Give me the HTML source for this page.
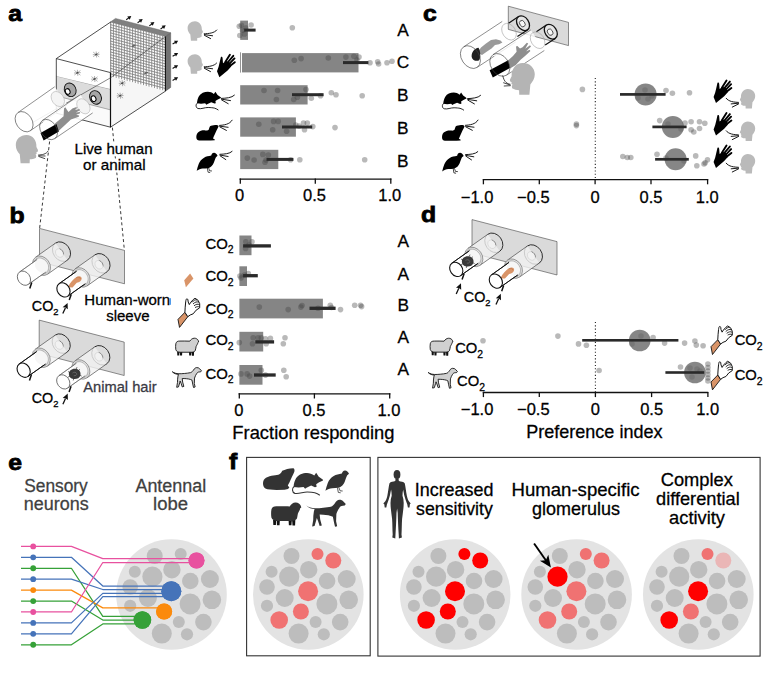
<!DOCTYPE html>
<html><head><meta charset="utf-8"><title>Figure</title>
<style>
html,body{margin:0;padding:0;background:#fff;}
svg{display:block;}
text{font-family:'Liberation Sans', Arial, sans-serif;}
</style></head><body>
<svg width="777" height="673" viewBox="0 0 777 673" font-family="'Liberation Sans', Arial, sans-serif">
<defs>
<symbol id="head" viewBox="0 0 16 20" overflow="visible">
<path d="M9.8 20 L9.9 17.2 C11.4 17.2 13 16.8 14.3 16 L14.5 14.6 L14 13.8 L14.8 13.2 L14.5 12.4 L15.6 11.6 L15.7 10.6 L14.6 8.4 C14.8 3.8 12 0 7.6 0 C3.2 0 0 3 0 7.2 C0 10 1.4 12 2.8 13.6 L3.4 20 Z"/>
</symbol>
<symbol id="breath" viewBox="0 0 14 9" overflow="visible">
<g fill="none" stroke-linecap="round">
<path d="M0 4 C4 3.6 9.5 3.2 12.4 0"/>
<path d="M0 4.3 L8.3 5"/>
<path d="M0 4.6 L6.3 7.6"/>
</g></symbol>
<symbol id="hand" viewBox="0 0 19 24" overflow="visible">
<path d="M0 17.4 L2.4 23.4 L10.6 16.6 L14.2 12.6 L13.2 9 L9 7.2 L6 9.4 L5.6 4.4 C5.3 2.6 3.9 2.5 3.6 4.4 L2.6 8.8 L1.6 13 Z"/>
<g stroke-linecap="round" fill="none" stroke-width="1.9" stroke="currentColor">
<path d="M8.3 8.2 L12.9 1"/>
<path d="M10.2 9.2 L16.3 2"/>
<path d="M11.8 10.6 L17.5 4.6"/>
<path d="M12.9 12.2 L17.8 8.4"/>
</g></symbol>
<symbol id="rat" viewBox="0 0 26 19.5" overflow="visible">
<path d="M26 6.3 C25 5.4 23.6 4.4 22.4 3.6 L20.2 0.3 L18.6 2.6 C16.8 1.2 14.6 0.4 12.4 0.4 C8.6 0.4 5 2 3.2 4.8 C2 6.8 1.2 9.4 1 12.3 L5.3 12.8 L9.5 12.3 L10.8 13.8 L12 13 L15.9 11.2 L19.2 12.6 L20.6 12.2 L20.2 10 C21.8 8.8 23.4 7.8 26 6.8 Z"/>
<path d="M1.6 12 C-0.6 13.2 -0.4 17 2.1 17.8 C5.5 18.6 9 16.6 12.7 16.7 C15.5 16.8 17.5 17 19 17.3 C20.8 17.8 22.2 18.6 23.3 19.4" fill="none" stroke-width="0.9" stroke="currentColor"/>
</symbol>
<symbol id="gpig" viewBox="0 0 31.5 22.2" overflow="visible">
<path d="M19.2 2.6 C22 1.2 26 0.2 30.2 0 C31.2 0 31.8 1.6 31.4 3.2 C30.6 5.6 29.2 8 28.2 10.2 C27 13 25.8 15.4 24.8 17.2 L26.4 19.4 L25 20.8 L21.6 21.6 L13.6 21.8 C9 21.8 4.6 21.4 2.4 20.4 C0.6 19.2 0 17 0 14.8 C0.2 12.4 1.2 10.6 3 9.6 C5.2 8.2 8 7.6 10.4 7.2 C13 6.8 15 6.6 16.4 6 C17.8 5.2 18.6 4 19.2 2.6 Z"/>
</symbol>
<symbol id="gpig2" viewBox="0 0 22.6 15.8" overflow="visible">
<path d="M22.4 1.2 C21.8 0.2 20.4 0 19 0.1 C17 0.2 15 0.6 13.8 1.4 C13.2 2.2 13 3.4 12.6 4.6 C12 5.6 10.8 5.8 9 5.6 C6.4 5.4 3.6 6 1.8 7.6 C0.2 9 0 11.4 0.2 13.2 C0.4 14.8 1.4 15.6 3 15.6 L13.2 15.6 L14.6 15.8 L18.6 15.4 L18.4 14.4 L16.8 13.6 C17.8 11.4 19 8.6 20.2 6 C21 4.2 22.2 2.6 22.4 1.2 Z"/>
</symbol>
<symbol id="quail" viewBox="0 0 24 23.5" overflow="visible">
<path d="M23.8 3.8 C23 2 21.6 0.4 19.8 0.4 C18 0.4 17 1.8 16.6 3.6 C13.6 4.2 10.8 4.6 8.4 6 C5.6 7.6 3.6 10 2.4 13 C1.4 15.6 0.6 18.4 0 21 C2.2 19.6 4.4 18.6 6.8 18.4 C9 18.4 11 18.4 12.9 18 C16 17.2 18.2 14.8 19.4 12 C20.4 9.6 21 7.2 22 5.4 Z"/>
<g fill="none" stroke-width="0.8" stroke="currentColor"><path d="M12.2 17.8 L13 22.6 L15.4 23"/><path d="M13.6 17.6 L14.8 21 L17.4 21.2"/></g>
</symbol>
<symbol id="sheep" viewBox="0 0 23.4 17.8" overflow="visible">
<path d="M1.6 13.4 L1.8 17.4 L3.8 17.4 L3.9 14.2 L4.4 14.2 L4.6 17.6 L6.6 17.6 L6.8 14 L13.6 14 L13.8 17.6 L15.8 17.6 L16 14.4 L16.4 14.4 L16.6 17.8 L18.6 17.8 L18.8 13.4 Z" fill="#111" stroke="none"/>
<path d="M0.3 5.6 C0.6 3.6 2.2 2.8 4.5 2.9 C7.5 3.1 11 2.6 14.4 3 C15.4 1.4 17 0.1 18.9 0 C20.8 -0.1 22.4 1 23 2.4 L23.4 3.8 L22.4 4.6 C22.6 5.6 21.6 6.6 20.8 8.4 C20.4 10 20.4 11.6 19.8 12.8 C19 13.8 17.6 14.2 16 14.2 L5 14.2 C2.6 14.2 0.8 13.4 0.3 11.6 C0 9.6 0 7.4 0.3 5.6 Z"/>
</symbol>
<symbol id="dog" viewBox="0 0 29.4 20.5" overflow="visible">
<path d="M0 4.2 C2 5.6 4 6.1 6.6 6.2 C9 6.3 15 5.8 18.3 5.1 C19.6 4.8 20.6 3.6 21.4 2.4 C22.2 1 23.4 0 24.6 0 C26 0 27 0.4 27.6 1.2 L29.4 3.2 L28.6 4.3 L27.2 4.4 C26 4.4 25.2 5 24.6 6 C23.8 7.2 23 8.6 22.4 10.6 L22.2 16 L23 19.6 L21.4 20.1 L20.6 16.6 L19.8 12.6 C18 11.6 15 11.2 12.7 11.1 L10 11 L10.4 14.6 L11.6 19 L10 19.5 L8.8 15.8 L7.9 13.6 L7.4 15.4 L6.2 19.5 L4.4 19.9 L5.2 15 C5.2 12.8 5.3 10.6 5.7 8.6 L6.2 6.8 C4.2 6.8 1.6 6 0 4.2 Z"/>
</symbol>
<symbol id="hsleeve" viewBox="0 0 22 29" overflow="visible">
<path d="M0 21 L6.9 13.9 L9.8 18.3 L1.5 29 Z" fill="#d99468" stroke="#111" stroke-width="0.9" stroke-linejoin="round"/>
<path d="M6.9 13.9 L7.2 8.8 L7.7 3.5 C7.9 1.6 8.2 0.5 8.8 0.4 C9.4 0.3 9.8 0.8 9.9 1.4 L10.2 3.6 L11.3 6.2 L12.8 3.8 L15.2 1.2 L17 -0.1 L19.9 1.7 L21.7 5.3 L21.7 9.4 L18.1 11.8 L15.2 15.4 L12.2 16.6 L9.8 18.3 Z" fill="#fff" stroke="#111" stroke-width="1.0" stroke-linejoin="round"/>
<g stroke="#111" stroke-width="0.9" fill="none"><path d="M14 4 C15.5 2 17.5 1 19 1.6"/><path d="M15 5.6 C17 3.6 19 3 20.6 3.8"/><path d="M16 7.4 C18 5.8 19.8 5.4 21.4 6.2"/><path d="M17 9.2 C18.6 8.2 20 8 21.4 8.6"/></g>
</symbol>
<symbol id="human" viewBox="0 0 27.4 68.6" overflow="visible">
<ellipse cx="13.7" cy="4.6" rx="3.4" ry="4.5"/>
<path d="M12.2 8.6 L15.2 8.6 L15.6 11 C17.6 11.6 20.4 11.8 21.4 13.2 C22.2 16 22.6 21 23.6 26 C24.2 28.6 24.8 30.2 25.8 31.6 L27.4 33.4 L26.6 34.2 L26.2 37.4 L24.6 37.6 L24 34.4 C22.8 31.6 21.8 28.6 21 25.6 L19.8 19.6 C19.4 22 19.2 24 19.2 25.8 C20 28 20.4 30.4 20.4 33 C20.4 38 19.4 44 18.8 49 C18.4 54 18.6 60 18.2 64.4 L18.6 67.6 L15.6 68.4 L15.4 64.6 C15 58 14.6 50 14.4 43 L13.8 38.4 L13.2 43 C13 50 12.6 58 12.2 64.6 L12 68.4 L9 67.6 L9.4 64.4 C9 60 9.2 54 8.8 49 C8.2 44 7.2 38 7.2 33 C7.2 30.4 7.6 28 8.4 25.8 C8.4 24 8.2 22 7.8 19.6 L6.6 25.6 C5.8 28.6 4.8 31.6 3.6 34.4 L3 37.6 L1.4 37.4 L1 34.2 L0 33.4 L1.8 31.6 C2.8 30.2 3.4 28.6 4 26 C5 21 5.4 16 6.2 13.2 C7.2 11.8 10 11.6 12 11 Z"/>
</symbol>
<symbol id="mosq" viewBox="-4 -4 8 8" overflow="visible">
<g stroke="#555" stroke-width="0.45" fill="none"><path d="M-3 -2.4 L3 2.4 M-3 2.2 L3 -2.2 M-3.4 0.2 L3.4 -0.2 M0 -3 L0.4 3"/></g>
<ellipse cx="0" cy="0" rx="1.3" ry="0.6" fill="#444" transform="rotate(-30)"/>
</symbol>
</defs>
<rect width="777" height="673" fill="#fff"/>
<rect x="240.2" y="20.6" width="7.800000000000011" height="19.3" fill="#858585"/>
<rect x="242" y="53.1" width="116.5" height="19.3" fill="#858585"/>
<rect x="240.2" y="85.2" width="67.40000000000003" height="19.3" fill="#858585"/>
<rect x="240.2" y="117.4" width="55.69999999999999" height="19.3" fill="#858585"/>
<rect x="240.2" y="149.8" width="38.10000000000002" height="19.3" fill="#858585"/>
<rect x="240" y="52.3" width="0.9" height="20.3" fill="#8a8a8a"/>
<circle cx="239.3" cy="26.2" r="2.8" fill="rgba(66,66,66,0.37)"/>
<circle cx="241.4" cy="25.2" r="2.8" fill="rgba(66,66,66,0.37)"/>
<circle cx="251.1" cy="25.0" r="2.8" fill="rgba(66,66,66,0.37)"/>
<circle cx="239.8" cy="35.5" r="2.8" fill="rgba(66,66,66,0.37)"/>
<circle cx="244.5" cy="33.9" r="2.8" fill="rgba(66,66,66,0.37)"/>
<circle cx="242.5" cy="30.5" r="2.8" fill="rgba(66,66,66,0.37)"/>
<circle cx="246" cy="28" r="2.8" fill="rgba(66,66,66,0.37)"/>
<circle cx="292.3" cy="27.8" r="2.8" fill="rgba(66,66,66,0.37)"/>
<circle cx="294.3" cy="60.2" r="2.8" fill="rgba(66,66,66,0.37)"/>
<circle cx="301.1" cy="58.6" r="2.8" fill="rgba(66,66,66,0.37)"/>
<circle cx="328.3" cy="58" r="2.8" fill="rgba(66,66,66,0.37)"/>
<circle cx="345.9" cy="57.1" r="2.8" fill="rgba(66,66,66,0.37)"/>
<circle cx="353.9" cy="56.2" r="2.8" fill="rgba(66,66,66,0.37)"/>
<circle cx="359" cy="57.1" r="2.8" fill="rgba(66,66,66,0.37)"/>
<circle cx="370" cy="62.7" r="2.8" fill="rgba(66,66,66,0.37)"/>
<circle cx="377.7" cy="61.8" r="2.8" fill="rgba(66,66,66,0.37)"/>
<circle cx="378.6" cy="64" r="2.8" fill="rgba(66,66,66,0.37)"/>
<circle cx="387" cy="62.7" r="2.8" fill="rgba(66,66,66,0.37)"/>
<circle cx="392" cy="61.2" r="2.8" fill="rgba(66,66,66,0.37)"/>
<circle cx="357" cy="60" r="2.8" fill="rgba(66,66,66,0.37)"/>
<circle cx="264" cy="90.5" r="2.8" fill="rgba(66,66,66,0.37)"/>
<circle cx="277.6" cy="90.5" r="2.8" fill="rgba(66,66,66,0.37)"/>
<circle cx="276.4" cy="99.5" r="2.8" fill="rgba(66,66,66,0.37)"/>
<circle cx="293.7" cy="99.5" r="2.8" fill="rgba(66,66,66,0.37)"/>
<circle cx="297.4" cy="97.3" r="2.8" fill="rgba(66,66,66,0.37)"/>
<circle cx="306" cy="89.6" r="2.8" fill="rgba(66,66,66,0.37)"/>
<circle cx="311.3" cy="98.2" r="2.8" fill="rgba(66,66,66,0.37)"/>
<circle cx="320.5" cy="95.8" r="2.8" fill="rgba(66,66,66,0.37)"/>
<circle cx="331.3" cy="92.7" r="2.8" fill="rgba(66,66,66,0.37)"/>
<circle cx="336" cy="94.8" r="2.8" fill="rgba(66,66,66,0.37)"/>
<circle cx="362.2" cy="95.8" r="2.8" fill="rgba(66,66,66,0.37)"/>
<circle cx="258.8" cy="124.2" r="2.8" fill="rgba(66,66,66,0.37)"/>
<circle cx="273.6" cy="121.4" r="2.8" fill="rgba(66,66,66,0.37)"/>
<circle cx="278.2" cy="121.4" r="2.8" fill="rgba(66,66,66,0.37)"/>
<circle cx="272.7" cy="129.7" r="2.8" fill="rgba(66,66,66,0.37)"/>
<circle cx="286.6" cy="131.3" r="2.8" fill="rgba(66,66,66,0.37)"/>
<circle cx="295.8" cy="125.1" r="2.8" fill="rgba(66,66,66,0.37)"/>
<circle cx="303.5" cy="123" r="2.8" fill="rgba(66,66,66,0.37)"/>
<circle cx="307.3" cy="123" r="2.8" fill="rgba(66,66,66,0.37)"/>
<circle cx="304.5" cy="129.7" r="2.8" fill="rgba(66,66,66,0.37)"/>
<circle cx="312.8" cy="126.6" r="2.8" fill="rgba(66,66,66,0.37)"/>
<circle cx="335" cy="127.6" r="2.8" fill="rgba(66,66,66,0.37)"/>
<circle cx="299" cy="126" r="2.8" fill="rgba(66,66,66,0.37)"/>
<circle cx="247.3" cy="158.1" r="2.8" fill="rgba(66,66,66,0.37)"/>
<circle cx="254.1" cy="160" r="2.8" fill="rgba(66,66,66,0.37)"/>
<circle cx="262.8" cy="154.4" r="2.8" fill="rgba(66,66,66,0.37)"/>
<circle cx="268.3" cy="155" r="2.8" fill="rgba(66,66,66,0.37)"/>
<circle cx="265" cy="162.2" r="2.8" fill="rgba(66,66,66,0.37)"/>
<circle cx="290.6" cy="159.7" r="2.8" fill="rgba(66,66,66,0.37)"/>
<circle cx="299.8" cy="159.7" r="2.8" fill="rgba(66,66,66,0.37)"/>
<circle cx="364.7" cy="159.7" r="2.8" fill="rgba(66,66,66,0.37)"/>
<circle cx="266" cy="160" r="2.8" fill="rgba(66,66,66,0.37)"/>
<rect x="244.2" y="28.6" width="11.400000000000006" height="3.0" fill="#2a2a2a"/>
<rect x="343" y="61.1" width="25.399999999999977" height="3.0" fill="#2a2a2a"/>
<rect x="292" y="93.2" width="31.600000000000023" height="3.0" fill="#2a2a2a"/>
<rect x="282" y="125.5" width="30.19999999999999" height="3.0" fill="#2a2a2a"/>
<rect x="266.5" y="157.9" width="26.899999999999977" height="3.0" fill="#2a2a2a"/>
<text x="397.15" y="35.7" font-size="17.3" text-anchor="start" fill="#000" stroke="#000" stroke-width="0.28" font-weight="normal" >A</text>
<text x="396.64" y="68.4" font-size="17.3" text-anchor="start" fill="#000" stroke="#000" stroke-width="0.28" font-weight="normal" >C</text>
<text x="396.94" y="100.7" font-size="17.3" text-anchor="start" fill="#000" stroke="#000" stroke-width="0.28" font-weight="normal" >B</text>
<text x="396.94" y="133.9" font-size="17.3" text-anchor="start" fill="#000" stroke="#000" stroke-width="0.28" font-weight="normal" >B</text>
<text x="396.94" y="166.7" font-size="17.3" text-anchor="start" fill="#000" stroke="#000" stroke-width="0.28" font-weight="normal" >B</text>
<path d="M239.6 179.2 H391.4" stroke="#111" stroke-width="1.3" fill="none"/>
<path d="M240.3 178.6 V183.79999999999998" stroke="#111" stroke-width="1.3"/>
<path d="M315.3 178.6 V183.79999999999998" stroke="#111" stroke-width="1.3"/>
<path d="M390.8 178.6 V183.79999999999998" stroke="#111" stroke-width="1.3"/>
<text x="234.92" y="200.9" font-size="16.5" text-anchor="start" fill="#000" stroke="#000" stroke-width="0.28" font-weight="normal" >0</text>
<text x="303.03" y="200.9" font-size="16.5" text-anchor="start" fill="#000" stroke="#000" stroke-width="0.28" font-weight="normal" >0.5</text>
<text x="378.24" y="200.9" font-size="16.5" text-anchor="start" fill="#000" stroke="#000" stroke-width="0.28" font-weight="normal" >1.0</text>
<rect x="239.4" y="235.5" width="12.099999999999994" height="19.7" fill="#858585"/>
<rect x="239.4" y="266.3" width="7.599999999999994" height="19.7" fill="#858585"/>
<rect x="239.4" y="298.7" width="83.49999999999997" height="19.7" fill="#858585"/>
<rect x="239.4" y="331.8" width="23.799999999999983" height="19.7" fill="#858585"/>
<rect x="239.4" y="365.0" width="23.099999999999994" height="19.7" fill="#858585"/>
<circle cx="245.8" cy="241.7" r="2.8" fill="rgba(66,66,66,0.37)"/>
<circle cx="252" cy="241.7" r="2.8" fill="rgba(66,66,66,0.37)"/>
<circle cx="245.6" cy="248.4" r="2.8" fill="rgba(66,66,66,0.37)"/>
<circle cx="249" cy="245" r="2.8" fill="rgba(66,66,66,0.37)"/>
<circle cx="239.9" cy="276" r="2.8" fill="rgba(66,66,66,0.37)"/>
<circle cx="241" cy="278" r="2.8" fill="rgba(66,66,66,0.37)"/>
<circle cx="248.3" cy="273.5" r="2.8" fill="rgba(66,66,66,0.37)"/>
<circle cx="244.5" cy="275" r="2.8" fill="rgba(66,66,66,0.37)"/>
<circle cx="259.3" cy="307.1" r="2.8" fill="rgba(66,66,66,0.37)"/>
<circle cx="288.2" cy="309.6" r="2.8" fill="rgba(66,66,66,0.37)"/>
<circle cx="300.9" cy="307.1" r="2.8" fill="rgba(66,66,66,0.37)"/>
<circle cx="302" cy="305.5" r="2.8" fill="rgba(66,66,66,0.37)"/>
<circle cx="318" cy="308.3" r="2.8" fill="rgba(66,66,66,0.37)"/>
<circle cx="330.3" cy="305.2" r="2.8" fill="rgba(66,66,66,0.37)"/>
<circle cx="331.5" cy="307.5" r="2.8" fill="rgba(66,66,66,0.37)"/>
<circle cx="340.5" cy="309.6" r="2.8" fill="rgba(66,66,66,0.37)"/>
<circle cx="354.7" cy="305.2" r="2.8" fill="rgba(66,66,66,0.37)"/>
<circle cx="361.6" cy="306.6" r="2.8" fill="rgba(66,66,66,0.37)"/>
<circle cx="360.6" cy="305.2" r="2.8" fill="rgba(66,66,66,0.37)"/>
<circle cx="239.3" cy="342.6" r="2.8" fill="rgba(66,66,66,0.37)"/>
<circle cx="253.2" cy="337.7" r="2.8" fill="rgba(66,66,66,0.37)"/>
<circle cx="252.5" cy="343.8" r="2.8" fill="rgba(66,66,66,0.37)"/>
<circle cx="258.1" cy="337.7" r="2.8" fill="rgba(66,66,66,0.37)"/>
<circle cx="261.3" cy="337.7" r="2.8" fill="rgba(66,66,66,0.37)"/>
<circle cx="265.5" cy="338.9" r="2.8" fill="rgba(66,66,66,0.37)"/>
<circle cx="266.2" cy="343.8" r="2.8" fill="rgba(66,66,66,0.37)"/>
<circle cx="270.4" cy="338.4" r="2.8" fill="rgba(66,66,66,0.37)"/>
<circle cx="285" cy="337.7" r="2.8" fill="rgba(66,66,66,0.37)"/>
<circle cx="283.3" cy="343.8" r="2.8" fill="rgba(66,66,66,0.37)"/>
<circle cx="241" cy="373.9" r="2.8" fill="rgba(66,66,66,0.37)"/>
<circle cx="247.1" cy="373.9" r="2.8" fill="rgba(66,66,66,0.37)"/>
<circle cx="249.6" cy="376.1" r="2.8" fill="rgba(66,66,66,0.37)"/>
<circle cx="261.3" cy="370.2" r="2.8" fill="rgba(66,66,66,0.37)"/>
<circle cx="265.5" cy="375.1" r="2.8" fill="rgba(66,66,66,0.37)"/>
<circle cx="283.8" cy="370.2" r="2.8" fill="rgba(66,66,66,0.37)"/>
<circle cx="286.2" cy="376.8" r="2.8" fill="rgba(66,66,66,0.37)"/>
<rect x="243.1" y="244.25" width="27.799999999999983" height="3.3" fill="#2a2a2a"/>
<rect x="243.1" y="274.05" width="14.700000000000017" height="3.3" fill="#2a2a2a"/>
<rect x="309.5" y="306.65000000000003" width="26.100000000000023" height="3.3" fill="#2a2a2a"/>
<rect x="255.3" y="340.25" width="18.80000000000001" height="3.3" fill="#2a2a2a"/>
<rect x="254" y="373.35" width="21.69999999999999" height="3.3" fill="#2a2a2a"/>
<text x="397.6" y="247.4" font-size="17.3" text-anchor="start" fill="#000" stroke="#000" stroke-width="0.28" font-weight="normal" >A</text>
<text x="397.6" y="279.6" font-size="17.3" text-anchor="start" fill="#000" stroke="#000" stroke-width="0.28" font-weight="normal" >A</text>
<text x="397.39" y="311.2" font-size="17.3" text-anchor="start" fill="#000" stroke="#000" stroke-width="0.28" font-weight="normal" >B</text>
<text x="397.6" y="343.3" font-size="17.3" text-anchor="start" fill="#000" stroke="#000" stroke-width="0.28" font-weight="normal" >A</text>
<text x="397.6" y="375.2" font-size="17.3" text-anchor="start" fill="#000" stroke="#000" stroke-width="0.28" font-weight="normal" >A</text>
<text x="205.45" y="248.5" font-size="14.9" fill="#000" stroke="#000" stroke-width="0.28">CO<tspan font-size="10.4" dy="4.9">2</tspan></text>
<text x="205.45" y="280.6" font-size="14.9" fill="#000" stroke="#000" stroke-width="0.28">CO<tspan font-size="10.4" dy="4.9">2</tspan></text>
<text x="205.45" y="313.5" font-size="14.9" fill="#000" stroke="#000" stroke-width="0.28">CO<tspan font-size="10.4" dy="4.9">2</tspan></text>
<text x="205.45" y="345.4" font-size="14.9" fill="#000" stroke="#000" stroke-width="0.28">CO<tspan font-size="10.4" dy="4.9">2</tspan></text>
<text x="205.45" y="378.5" font-size="14.9" fill="#000" stroke="#000" stroke-width="0.28">CO<tspan font-size="10.4" dy="4.9">2</tspan></text>
<path d="M238.6 393.9 H390.4" stroke="#111" stroke-width="1.3" fill="none"/>
<path d="M239.3 393.29999999999995 V398.5" stroke="#111" stroke-width="1.3"/>
<path d="M314.4 393.29999999999995 V398.5" stroke="#111" stroke-width="1.3"/>
<path d="M389.7 393.29999999999995 V398.5" stroke="#111" stroke-width="1.3"/>
<text x="234.22" y="415.9" font-size="16.5" text-anchor="start" fill="#000" stroke="#000" stroke-width="0.28" font-weight="normal" >0</text>
<text x="302.43" y="415.9" font-size="16.5" text-anchor="start" fill="#000" stroke="#000" stroke-width="0.28" font-weight="normal" >0.5</text>
<text x="377.44" y="415.9" font-size="16.5" text-anchor="start" fill="#000" stroke="#000" stroke-width="0.28" font-weight="normal" >1.0</text>
<text x="232.38" y="438.5" font-size="17.8" text-anchor="start" fill="#000" stroke="#000" stroke-width="0.28" font-weight="normal"  textLength="162.05" lengthAdjust="spacingAndGlyphs">Fraction responding</text>
<path d="M595.3 78 V179" stroke="#222" stroke-width="1.1" stroke-dasharray="1.1 2.2" fill="none"/>
<circle cx="582.4" cy="89.4" r="2.8" fill="rgba(66,66,66,0.37)"/>
<circle cx="666" cy="90.5" r="2.8" fill="rgba(66,66,66,0.37)"/>
<circle cx="672.4" cy="93.2" r="2.8" fill="rgba(66,66,66,0.37)"/>
<circle cx="689.5" cy="92.8" r="2.8" fill="rgba(66,66,66,0.37)"/>
<circle cx="638" cy="98" r="2.8" fill="rgba(66,66,66,0.37)"/>
<circle cx="645" cy="90" r="2.8" fill="rgba(66,66,66,0.37)"/>
<circle cx="648" cy="99" r="2.8" fill="rgba(66,66,66,0.37)"/>
<circle cx="652" cy="96" r="2.8" fill="rgba(66,66,66,0.37)"/>
<circle cx="576.4" cy="124.1" r="2.8" fill="rgba(66,66,66,0.37)"/>
<circle cx="576.4" cy="125.6" r="2.8" fill="rgba(66,66,66,0.37)"/>
<circle cx="659.7" cy="120.6" r="2.8" fill="rgba(66,66,66,0.37)"/>
<circle cx="691.1" cy="121.7" r="2.8" fill="rgba(66,66,66,0.37)"/>
<circle cx="699.5" cy="121.7" r="2.8" fill="rgba(66,66,66,0.37)"/>
<circle cx="704.8" cy="123.3" r="2.8" fill="rgba(66,66,66,0.37)"/>
<circle cx="691.1" cy="129.7" r="2.8" fill="rgba(66,66,66,0.37)"/>
<circle cx="693.8" cy="132" r="2.8" fill="rgba(66,66,66,0.37)"/>
<circle cx="699.5" cy="128.5" r="2.8" fill="rgba(66,66,66,0.37)"/>
<circle cx="685" cy="123" r="2.8" fill="rgba(66,66,66,0.37)"/>
<circle cx="668" cy="124" r="2.8" fill="rgba(66,66,66,0.37)"/>
<circle cx="681" cy="129" r="2.8" fill="rgba(66,66,66,0.37)"/>
<circle cx="622.8" cy="156.5" r="2.8" fill="rgba(66,66,66,0.37)"/>
<circle cx="627.3" cy="157.5" r="2.8" fill="rgba(66,66,66,0.37)"/>
<circle cx="630.8" cy="157.5" r="2.8" fill="rgba(66,66,66,0.37)"/>
<circle cx="657" cy="154.3" r="2.8" fill="rgba(66,66,66,0.37)"/>
<circle cx="695.7" cy="155.9" r="2.8" fill="rgba(66,66,66,0.37)"/>
<circle cx="696.8" cy="165.7" r="2.8" fill="rgba(66,66,66,0.37)"/>
<circle cx="705.2" cy="162.7" r="2.8" fill="rgba(66,66,66,0.37)"/>
<circle cx="707.5" cy="159.7" r="2.8" fill="rgba(66,66,66,0.37)"/>
<circle cx="704" cy="164" r="2.8" fill="rgba(66,66,66,0.37)"/>
<circle cx="666" cy="158" r="2.8" fill="rgba(66,66,66,0.37)"/>
<circle cx="684" cy="161" r="2.8" fill="rgba(66,66,66,0.37)"/>
<circle cx="645.6" cy="94.4" r="11.0" fill="rgba(100,100,100,0.78)"/>
<circle cx="672.9" cy="126.9" r="11.0" fill="rgba(100,100,100,0.78)"/>
<circle cx="675.6" cy="159.3" r="11.0" fill="rgba(100,100,100,0.78)"/>
<rect x="620" y="93.05000000000001" width="45.60000000000002" height="2.7" fill="#2a2a2a"/>
<rect x="652.4" y="125.55000000000001" width="34.200000000000045" height="2.7" fill="#2a2a2a"/>
<rect x="655.1" y="157.95000000000002" width="33.69999999999993" height="2.7" fill="#2a2a2a"/>
<path d="M482.8 179.7 H708.2" stroke="#111" stroke-width="1.3" fill="none"/>
<path d="M483.4 179.1 V184.29999999999998" stroke="#111" stroke-width="1.3"/>
<path d="M539.3 179.1 V184.29999999999998" stroke="#111" stroke-width="1.3"/>
<path d="M595.1 179.1 V184.29999999999998" stroke="#111" stroke-width="1.3"/>
<path d="M651 179.1 V184.29999999999998" stroke="#111" stroke-width="1.3"/>
<path d="M707.6 179.1 V184.29999999999998" stroke="#111" stroke-width="1.3"/>
<text x="460.81" y="202.8" font-size="16.5" text-anchor="start" fill="#000" stroke="#000" stroke-width="0.28" font-weight="normal" >−1.0</text>
<text x="517.0" y="202.8" font-size="16.5" text-anchor="start" fill="#000" stroke="#000" stroke-width="0.28" font-weight="normal" >−0.5</text>
<text x="590.52" y="202.8" font-size="16.5" text-anchor="start" fill="#000" stroke="#000" stroke-width="0.28" font-weight="normal" >0</text>
<text x="639.53" y="202.8" font-size="16.5" text-anchor="start" fill="#000" stroke="#000" stroke-width="0.28" font-weight="normal" >0.5</text>
<text x="695.84" y="202.8" font-size="16.5" text-anchor="start" fill="#000" stroke="#000" stroke-width="0.28" font-weight="normal" >1.0</text>
<path d="M595.4 322 V392" stroke="#222" stroke-width="1.1" stroke-dasharray="1.1 2.2" fill="none"/>
<circle cx="483" cy="340.7" r="2.8" fill="rgba(66,66,66,0.37)"/>
<circle cx="557.9" cy="336.1" r="2.8" fill="rgba(66,66,66,0.37)"/>
<circle cx="578.5" cy="343.9" r="2.8" fill="rgba(66,66,66,0.37)"/>
<circle cx="586.4" cy="345.3" r="2.8" fill="rgba(66,66,66,0.37)"/>
<circle cx="653.1" cy="337.5" r="2.8" fill="rgba(66,66,66,0.37)"/>
<circle cx="664.6" cy="343.1" r="2.8" fill="rgba(66,66,66,0.37)"/>
<circle cx="684.6" cy="343.1" r="2.8" fill="rgba(66,66,66,0.37)"/>
<circle cx="694.9" cy="341" r="2.8" fill="rgba(66,66,66,0.37)"/>
<circle cx="696.3" cy="345.1" r="2.8" fill="rgba(66,66,66,0.37)"/>
<circle cx="703.1" cy="345.7" r="2.8" fill="rgba(66,66,66,0.37)"/>
<circle cx="632" cy="344" r="2.8" fill="rgba(66,66,66,0.37)"/>
<circle cx="641" cy="336" r="2.8" fill="rgba(66,66,66,0.37)"/>
<circle cx="599.1" cy="370.5" r="2.8" fill="rgba(66,66,66,0.37)"/>
<circle cx="680.5" cy="367" r="2.8" fill="rgba(66,66,66,0.37)"/>
<circle cx="707.9" cy="364" r="2.8" fill="rgba(66,66,66,0.37)"/>
<circle cx="707.9" cy="367.5" r="2.8" fill="rgba(66,66,66,0.37)"/>
<circle cx="707.9" cy="371" r="2.8" fill="rgba(66,66,66,0.37)"/>
<circle cx="707.9" cy="374.5" r="2.8" fill="rgba(66,66,66,0.37)"/>
<circle cx="707.9" cy="378" r="2.8" fill="rgba(66,66,66,0.37)"/>
<circle cx="707.9" cy="381" r="2.8" fill="rgba(66,66,66,0.37)"/>
<circle cx="690" cy="368" r="2.8" fill="rgba(66,66,66,0.37)"/>
<circle cx="697" cy="369" r="2.8" fill="rgba(66,66,66,0.37)"/>
<circle cx="692" cy="377" r="2.8" fill="rgba(66,66,66,0.37)"/>
<circle cx="700" cy="371" r="2.8" fill="rgba(66,66,66,0.37)"/>
<circle cx="639.7" cy="340.5" r="10.8" fill="rgba(100,100,100,0.78)"/>
<circle cx="694.9" cy="372.5" r="10.8" fill="rgba(100,100,100,0.78)"/>
<rect x="582.2" y="339.0" width="96.19999999999993" height="2.6" fill="#2a2a2a"/>
<rect x="665.4" y="371.2" width="38.80000000000007" height="2.6" fill="#2a2a2a"/>
<path d="M482.8 392.5 H708.2" stroke="#111" stroke-width="1.3" fill="none"/>
<path d="M483.4 391.9 V397.1" stroke="#111" stroke-width="1.3"/>
<path d="M539.3 391.9 V397.1" stroke="#111" stroke-width="1.3"/>
<path d="M595.4 391.9 V397.1" stroke="#111" stroke-width="1.3"/>
<path d="M651.6 391.9 V397.1" stroke="#111" stroke-width="1.3"/>
<path d="M707.9 391.9 V397.1" stroke="#111" stroke-width="1.3"/>
<text x="460.81" y="415.2" font-size="16.5" text-anchor="start" fill="#000" stroke="#000" stroke-width="0.28" font-weight="normal" >−1.0</text>
<text x="517.0" y="415.2" font-size="16.5" text-anchor="start" fill="#000" stroke="#000" stroke-width="0.28" font-weight="normal" >−0.5</text>
<text x="590.82" y="415.2" font-size="16.5" text-anchor="start" fill="#000" stroke="#000" stroke-width="0.28" font-weight="normal" >0</text>
<text x="640.13" y="415.2" font-size="16.5" text-anchor="start" fill="#000" stroke="#000" stroke-width="0.28" font-weight="normal" >0.5</text>
<text x="696.14" y="415.2" font-size="16.5" text-anchor="start" fill="#000" stroke="#000" stroke-width="0.28" font-weight="normal" >1.0</text>
<text x="526.33" y="438.3" font-size="17.7" text-anchor="start" fill="#000" stroke="#000" stroke-width="0.28" font-weight="normal"  textLength="136.09" lengthAdjust="spacingAndGlyphs">Preference index</text>
<polygon points="56.30,58.60 110.70,22.00 165.40,36.60 110.50,72.60" fill="#fff" stroke="none" stroke-width="0.6" stroke-linejoin="round" />
<polygon points="110.70,22.00 165.40,36.60 165.40,91.20 110.70,76.60" fill="#fff" stroke="none" stroke-width="0.6" stroke-linejoin="round" />
<path d="M113.44 22.73 V77.33 M116.17 23.46 V78.06 M118.91 24.19 V78.79 M121.64 24.92 V79.52 M124.38 25.65 V80.25 M127.11 26.38 V80.98 M129.84 27.11 V81.71 M132.58 27.84 V82.44 M135.31 28.57 V83.17 M138.05 29.30 V83.90 M140.78 30.03 V84.63 M143.52 30.76 V85.36 M146.25 31.49 V86.09 M148.99 32.22 V86.82 M151.73 32.95 V87.55 M154.46 33.68 V88.28 M157.19 34.41 V89.01 M159.93 35.14 V89.74 M162.67 35.87 V90.47 M110.70 24.73 L165.40 39.33 M110.70 27.46 L165.40 42.06 M110.70 30.19 L165.40 44.79 M110.70 32.92 L165.40 47.52 M110.70 35.65 L165.40 50.25 M110.70 38.38 L165.40 52.98 M110.70 41.11 L165.40 55.71 M110.70 43.84 L165.40 58.44 M110.70 46.57 L165.40 61.17 M110.70 49.30 L165.40 63.90 M110.70 52.03 L165.40 66.63 M110.70 54.76 L165.40 69.36 M110.70 57.49 L165.40 72.09 M110.70 60.22 L165.40 74.82 M110.70 62.95 L165.40 77.55 M110.70 65.68 L165.40 80.28 M110.70 68.41 L165.40 83.01 M110.70 71.14 L165.40 85.74 M110.70 73.87 L165.40 88.47" stroke="#808080" stroke-width="0.85" fill="none"/>
<polygon points="110.40,22.00 115.50,18.40 170.70,32.80 165.40,36.60" fill="#808080" stroke="#555" stroke-width="0.4" stroke-linejoin="round" />
<polygon points="165.40,36.60 170.70,32.80 170.70,87.40 165.40,91.20" fill="#727272" stroke="#444" stroke-width="0.4" stroke-linejoin="round" />
<path d="M165.4 36.6 L165.4 91.2" stroke="#111" stroke-width="1.1" fill="none"/>
<path d="M110.7 22.0 V76.6" stroke="#333" stroke-width="0.6" fill="none"/>
<g transform="translate(126.2,19.8) rotate(-37)"><path d="M0 0 H3.6" stroke="#111" stroke-width="1.1"/><path d="M6.4 0 L2.8 -2 L2.8 2 Z" fill="#111"/></g>
<g transform="translate(137.6,22.8) rotate(-37)"><path d="M0 0 H3.6" stroke="#111" stroke-width="1.1"/><path d="M6.4 0 L2.8 -2 L2.8 2 Z" fill="#111"/></g>
<g transform="translate(149.3,25.9) rotate(-37)"><path d="M0 0 H3.6" stroke="#111" stroke-width="1.1"/><path d="M6.4 0 L2.8 -2 L2.8 2 Z" fill="#111"/></g>
<g transform="translate(160.6,29.0) rotate(-37)"><path d="M0 0 H3.6" stroke="#111" stroke-width="1.1"/><path d="M6.4 0 L2.8 -2 L2.8 2 Z" fill="#111"/></g>
<g transform="translate(172.6,44.0) rotate(-30)"><path d="M0 0 H3.6" stroke="#111" stroke-width="1.1"/><path d="M6.4 0 L2.8 -2 L2.8 2 Z" fill="#111"/></g>
<g transform="translate(172.6,56.2) rotate(-30)"><path d="M0 0 H3.6" stroke="#111" stroke-width="1.1"/><path d="M6.4 0 L2.8 -2 L2.8 2 Z" fill="#111"/></g>
<g transform="translate(172.6,68.4) rotate(-30)"><path d="M0 0 H3.6" stroke="#111" stroke-width="1.1"/><path d="M6.4 0 L2.8 -2 L2.8 2 Z" fill="#111"/></g>
<g transform="translate(172.6,80.4) rotate(-30)"><path d="M0 0 H3.6" stroke="#111" stroke-width="1.1"/><path d="M6.4 0 L2.8 -2 L2.8 2 Z" fill="#111"/></g>
<ellipse cx="133.6" cy="45.8" rx="2.2" ry="0.9" fill="#666" transform="rotate(-15 133.6 45.8)"/>
<ellipse cx="146.1" cy="72.8" rx="2.2" ry="0.9" fill="#666" transform="rotate(-15 146.1 72.8)"/>
<polygon points="110.50,72.60 110.70,76.60 165.40,91.20 110.50,127.20" fill="#f6f6f6" stroke="none" stroke-width="0.6" stroke-linejoin="round" />
<polygon points="56.30,58.60 110.50,72.60 110.50,127.20 56.30,113.20" fill="#fafafa" stroke="none" stroke-width="0.6" stroke-linejoin="round" />
<polygon points="56.30,75.90 110.50,89.10 110.50,109.90 56.30,95.90" fill="#dcdcdc" stroke="none" stroke-width="0.6" stroke-linejoin="round" />
<path d="M56.3 75.9 L110.5 89.1 M56.3 95.9 L110.5 109.89999999999999" stroke="#666" stroke-width="0.5" fill="none"/>
<polygon points="56.30,58.60 110.50,72.60 110.50,89.10 56.30,75.90" fill="#ffffff" stroke="none" stroke-width="0.6" stroke-linejoin="round" />
<path d="M56.3 58.6 L110.7 22.0 M56.3 58.6 L110.5 72.6 L110.5 127.19999999999999 L165.4 91.2 M56.3 58.6 L56.3 113.2 L110.5 127.19999999999999" stroke="#222" stroke-width="0.8" fill="none"/>
<path d="M110.5 72.6 V127.19999999999999" stroke="#111" stroke-width="1.2"/>
<path d="M22 128.6 L110.5 77.8 L165.4 36.6" stroke="#333" stroke-width="0.6" fill="none"/>
<use href="#mosq" x="92.2" y="50.5" width="8" height="8" fill="#000" color="#000" />
<use href="#mosq" x="73.4" y="68.8" width="8" height="8" fill="#000" color="#000" />
<use href="#mosq" x="90.5" y="75" width="8" height="8" fill="#000" color="#000" />
<use href="#mosq" x="118.2" y="79.2" width="8" height="8" fill="#000" color="#000" />
<use href="#mosq" x="116.1" y="91.7" width="8" height="8" fill="#000" color="#000" />
<ellipse cx="70.2" cy="89.8" rx="5.7" ry="7" fill="#a6a6a6" stroke="#111" stroke-width="0.9" transform="rotate(-25 70.2 89.8)"/>
<ellipse cx="67.7" cy="91.5" rx="2.3" ry="2.9" fill="#fff" stroke="#000" stroke-width="1" transform="rotate(-25 67.7 91.5)"/>
<ellipse cx="95.5" cy="97.4" rx="5.7" ry="7" fill="#a6a6a6" stroke="#111" stroke-width="0.9" transform="rotate(-25 95.5 97.4)"/>
<ellipse cx="93.6" cy="98.7" rx="2.3" ry="2.9" fill="#fff" stroke="#000" stroke-width="1" transform="rotate(-25 93.6 98.7)"/>
<path d="M54.68 86.80 L17.78 112.70 L30.42 130.70 L67.32 104.80 Z" fill="#ffffff" fill-opacity="0.88" stroke="none"/>
<path d="M54.68 86.80 L17.78 112.70 M67.32 104.80 L30.42 130.70" stroke="#444" stroke-width="0.6" fill="none"/>
<ellipse cx="57.80" cy="99.00" rx="5.90" ry="8.20" transform="rotate(146.0 57.80 99.00)" fill="#f4f4f4" stroke="#aaa" stroke-width="0.5" />
<ellipse cx="24.10" cy="121.70" rx="7.92" ry="11.00" transform="rotate(146.0 24.10 121.70)" fill="#fff" stroke="#444" stroke-width="0.6" />
<path d="M80.33 94.70 L42.43 120.40 L54.77 138.60 L92.67 112.90 Z" fill="#ffffff" fill-opacity="0.88" stroke="none"/>
<path d="M80.33 94.70 L42.43 120.40 M92.67 112.90 L54.77 138.60" stroke="#444" stroke-width="0.6" fill="none"/>
<ellipse cx="83.40" cy="106.30" rx="5.90" ry="8.20" transform="rotate(146.0 83.40 106.30)" fill="#f4f4f4" stroke="#aaa" stroke-width="0.5" />
<polygon points="55.00,123.40 63.60,116.20 64.00,108.60 65.40,107.20 66.90,109.80 68.50,112.00 72.40,108.60 75.80,107.20 77.60,107.60 75.00,110.00 79.40,108.90 80.00,110.20 75.80,112.40 79.80,112.00 80.20,113.30 76.20,114.80 79.20,115.40 78.80,116.80 74.50,118.30 70.90,119.60 58.60,131.00" fill="#8e8e8e" stroke="none" stroke-width="0.6" stroke-linejoin="round" />
<polygon points="40.50,133.00 43.60,140.60 58.90,131.60 56.40,124.00" fill="#000" stroke="none" stroke-width="0.6" stroke-linejoin="round" />
<ellipse cx="48.60" cy="129.50" rx="7.92" ry="11.00" transform="rotate(146.0 48.60 129.50)" fill="none" stroke="#444" stroke-width="0.6" />
<use href="#head" x="15.8" y="134.8" width="22.6" height="28.8" fill="#b4b4b4" color="#b4b4b4" />
<g transform="translate(38.6,155.2) scale(1,1)" stroke="#1a1a1a" stroke-width="0.8" fill="none" stroke-linecap="round"><path d="M0 -0.2 C3.3 -0.4 7.6 -0.8 9.5 -4.2"/><path d="M0.2 0.6 L6.5 0.8"/><path d="M0.2 1.3 L6.2 3.4"/></g>
<path d="M49.6 141.5 L39.6 228.5 M112.4 127.6 L124.4 250.4" stroke="#222" stroke-width="0.9" stroke-dasharray="3 2.6" fill="none"/>
<rect x="106" y="141.5" width="16" height="14.8" fill="#fff"/><rect x="106" y="159.6" width="16" height="12.9" fill="#fff"/>
<text x="74.51" y="153.7" font-size="14.8" text-anchor="start" fill="#000" stroke="#000" stroke-width="0.28" font-weight="normal"  textLength="78.05" lengthAdjust="spacingAndGlyphs">Live human</text>
<text x="82.97" y="170.3" font-size="14.8" text-anchor="start" fill="#000" stroke="#000" stroke-width="0.28" font-weight="normal"  textLength="62.58" lengthAdjust="spacingAndGlyphs">or animal</text>
<polygon points="39.50,228.40 124.50,250.40 124.50,283.80 39.50,261.80" fill="#dadada" stroke="#444" stroke-width="0.6" stroke-linejoin="round" />
<ellipse cx="61.50" cy="251.60" rx="8.32" ry="10.40" transform="rotate(144.7 61.50 251.60)" fill="#dcdcdc" stroke="#222" stroke-width="0.85" />
<ellipse cx="59.46" cy="253.05" rx="3.68" ry="4.60" transform="rotate(144.7 59.46 253.05)" fill="#f2f2f2" stroke="#444" stroke-width="0.55" />
<path d="M55.49 243.11 L35.50 257.27 L47.52 274.25 L67.51 260.09 Z" fill="#f1f1f1" fill-opacity="0.8" stroke="none"/>
<path d="M55.49 243.11 L35.50 257.27 M67.51 260.09 L47.52 274.25" stroke="#333" stroke-width="0.6" fill="none"/>
<ellipse cx="41.51" cy="265.76" rx="8.32" ry="10.40" transform="rotate(144.7 41.51 265.76)" fill="#e0e0e0" stroke="#555" stroke-width="0.5" />
<ellipse cx="41.02" cy="266.11" rx="7.12" ry="8.90" transform="rotate(144.7 41.02 266.11)" fill="#d2d2d2" stroke="#888" stroke-width="0.4" />
<path d="M37.11 259.56 L19.57 271.99 L28.36 284.39 L45.90 271.96 Z" fill="#ffffff" fill-opacity="1" stroke="none"/>
<path d="M37.11 259.56 L19.57 271.99 M45.90 271.96 L28.36 284.39" stroke="#555" stroke-width="0.55" fill="none"/>
<ellipse cx="41.51" cy="265.76" rx="6.08" ry="7.60" transform="rotate(144.7 41.51 265.76)" fill="#f6f6f6" stroke="none" stroke-width="0" />
<path d="M37.11 259.56 L19.57 271.99 L28.36 284.39 L45.90 271.96 Z" fill="none" fill-opacity="1" stroke="none"/>
<path d="M37.11 259.56 L19.57 271.99 M45.90 271.96 L28.36 284.39" stroke="#555" stroke-width="0.55" fill="none"/>
<ellipse cx="23.96" cy="278.19" rx="6.08" ry="7.60" transform="rotate(144.7 23.96 278.19)" fill="#fff" stroke="#555" stroke-width="0.75" />
<path d="M31.76 282.49 L29.76 288.39" stroke="#111" stroke-width="1.5" fill="none"/>
<ellipse cx="101.00" cy="263.30" rx="8.32" ry="10.40" transform="rotate(144.7 101.00 263.30)" fill="#dcdcdc" stroke="#222" stroke-width="0.85" />
<ellipse cx="98.96" cy="264.75" rx="3.68" ry="4.60" transform="rotate(144.7 98.96 264.75)" fill="#f2f2f2" stroke="#444" stroke-width="0.55" />
<path d="M94.99 254.81 L75.00 268.97 L87.02 285.95 L107.01 271.79 Z" fill="#f1f1f1" fill-opacity="0.8" stroke="none"/>
<path d="M94.99 254.81 L75.00 268.97 M107.01 271.79 L87.02 285.95" stroke="#333" stroke-width="0.6" fill="none"/>
<ellipse cx="81.01" cy="277.46" rx="8.32" ry="10.40" transform="rotate(144.7 81.01 277.46)" fill="#e0e0e0" stroke="#555" stroke-width="0.5" />
<ellipse cx="80.52" cy="277.81" rx="7.12" ry="8.90" transform="rotate(144.7 80.52 277.81)" fill="#d2d2d2" stroke="#888" stroke-width="0.4" />
<path d="M76.61 271.26 L59.07 283.69 L67.86 296.09 L85.40 283.66 Z" fill="#ffffff" fill-opacity="1" stroke="none"/>
<path d="M76.61 271.26 L59.07 283.69 M85.40 283.66 L67.86 296.09" stroke="#111" stroke-width="0.9" fill="none"/>
<ellipse cx="81.01" cy="277.46" rx="6.08" ry="7.60" transform="rotate(144.7 81.01 277.46)" fill="#f6f6f6" stroke="none" stroke-width="0" />
<g transform="translate(74.88721660474704,281.79655490497083) scale(1.55)"><path d="M-4.5 3.5 C-3 0.5 -1 -2 1.5 -3.2 C3 -4 4.5 -3.4 4.4 -2 C4.2 -0.6 2.8 0.4 1.2 0.6 L-1.5 3.6 Z" fill="#d99468"/><path d="M0.8 -2.6 C2.2 -3.4 3.6 -3 3.5 -1.8" stroke="#c07a50" stroke-width="0.5" fill="none"/></g>
<path d="M76.61 271.26 L59.07 283.69 L67.86 296.09 L85.40 283.66 Z" fill="none" fill-opacity="1" stroke="none"/>
<path d="M76.61 271.26 L59.07 283.69 M85.40 283.66 L67.86 296.09" stroke="#111" stroke-width="0.9" fill="none"/>
<ellipse cx="63.46" cy="289.89" rx="6.08" ry="7.60" transform="rotate(144.7 63.46 289.89)" fill="#fff" stroke="#111" stroke-width="1.1" />
<path d="M71.26 294.19 L69.26 300.09" stroke="#111" stroke-width="1.5" fill="none"/>
<polygon points="39.20,320.10 124.20,342.10 124.20,375.50 39.20,353.50" fill="#dadada" stroke="#444" stroke-width="0.6" stroke-linejoin="round" />
<ellipse cx="61.20" cy="343.60" rx="8.32" ry="10.40" transform="rotate(144.7 61.20 343.60)" fill="#dcdcdc" stroke="#222" stroke-width="0.85" />
<ellipse cx="59.16" cy="345.05" rx="3.68" ry="4.60" transform="rotate(144.7 59.16 345.05)" fill="#f2f2f2" stroke="#444" stroke-width="0.55" />
<path d="M55.19 335.11 L35.20 349.27 L47.22 366.25 L67.21 352.09 Z" fill="#f1f1f1" fill-opacity="0.8" stroke="none"/>
<path d="M55.19 335.11 L35.20 349.27 M67.21 352.09 L47.22 366.25" stroke="#333" stroke-width="0.6" fill="none"/>
<ellipse cx="41.21" cy="357.76" rx="8.32" ry="10.40" transform="rotate(144.7 41.21 357.76)" fill="#e0e0e0" stroke="#555" stroke-width="0.5" />
<ellipse cx="40.72" cy="358.11" rx="7.12" ry="8.90" transform="rotate(144.7 40.72 358.11)" fill="#d2d2d2" stroke="#888" stroke-width="0.4" />
<path d="M36.81 351.56 L19.27 363.99 L28.06 376.39 L45.60 363.96 Z" fill="#ffffff" fill-opacity="1" stroke="none"/>
<path d="M36.81 351.56 L19.27 363.99 M45.60 363.96 L28.06 376.39" stroke="#111" stroke-width="0.9" fill="none"/>
<ellipse cx="41.21" cy="357.76" rx="6.08" ry="7.60" transform="rotate(144.7 41.21 357.76)" fill="#f6f6f6" stroke="none" stroke-width="0" />
<path d="M36.81 351.56 L19.27 363.99 L28.06 376.39 L45.60 363.96 Z" fill="none" fill-opacity="1" stroke="none"/>
<path d="M36.81 351.56 L19.27 363.99 M45.60 363.96 L28.06 376.39" stroke="#111" stroke-width="0.9" fill="none"/>
<ellipse cx="23.66" cy="370.19" rx="6.08" ry="7.60" transform="rotate(144.7 23.66 370.19)" fill="#fff" stroke="#111" stroke-width="1.1" />
<path d="M31.46 374.49 L29.46 380.39" stroke="#111" stroke-width="1.5" fill="none"/>
<ellipse cx="100.80" cy="355.30" rx="8.32" ry="10.40" transform="rotate(144.7 100.80 355.30)" fill="#dcdcdc" stroke="#222" stroke-width="0.85" />
<ellipse cx="98.76" cy="356.75" rx="3.68" ry="4.60" transform="rotate(144.7 98.76 356.75)" fill="#f2f2f2" stroke="#444" stroke-width="0.55" />
<path d="M94.79 346.81 L74.80 360.97 L86.82 377.95 L106.81 363.79 Z" fill="#f1f1f1" fill-opacity="0.8" stroke="none"/>
<path d="M94.79 346.81 L74.80 360.97 M106.81 363.79 L86.82 377.95" stroke="#333" stroke-width="0.6" fill="none"/>
<ellipse cx="80.81" cy="369.46" rx="8.32" ry="10.40" transform="rotate(144.7 80.81 369.46)" fill="#e0e0e0" stroke="#555" stroke-width="0.5" />
<ellipse cx="80.32" cy="369.81" rx="7.12" ry="8.90" transform="rotate(144.7 80.32 369.81)" fill="#d2d2d2" stroke="#888" stroke-width="0.4" />
<path d="M76.41 363.26 L58.87 375.69 L67.66 388.09 L85.20 375.66 Z" fill="#ffffff" fill-opacity="1" stroke="none"/>
<path d="M76.41 363.26 L58.87 375.69 M85.20 375.66 L67.66 388.09" stroke="#555" stroke-width="0.55" fill="none"/>
<ellipse cx="80.81" cy="369.46" rx="6.08" ry="7.60" transform="rotate(144.7 80.81 369.46)" fill="#f6f6f6" stroke="none" stroke-width="0" />
<g transform="translate(74.68721660474704,373.79655490497083) scale(1.45)"><path d="M-4 0.5 C-4.2 -2 -2 -3.6 0.4 -3.4 C2.8 -3.2 4.4 -1.6 4 0.8 C3.6 3 1.4 3.8 -0.8 3.6 C-2.8 3.4 -3.9 2.2 -4 0.5 Z" fill="#3a3a3a"/><g stroke="#2a2a2a" stroke-width="0.45" fill="none"><path d="M-4.6 -1.6 L-3 -0.6 M3.6 -3.2 L2.4 -2 M4.8 1.6 L3.4 1 M-1 4.6 L-0.6 3.2 M1.6 -4.6 L1 -3.2 M-4.8 2.4 L-3.4 1.8"/></g><path d="M-1.5 -0.5 C-0.5 -1.5 1 -1.2 1.4 0 C1.6 1 0.4 1.6 -0.6 1.2" stroke="#777" stroke-width="0.45" fill="none"/></g>
<path d="M76.41 363.26 L58.87 375.69 L67.66 388.09 L85.20 375.66 Z" fill="none" fill-opacity="1" stroke="none"/>
<path d="M76.41 363.26 L58.87 375.69 M85.20 375.66 L67.66 388.09" stroke="#555" stroke-width="0.55" fill="none"/>
<ellipse cx="63.26" cy="381.89" rx="6.08" ry="7.60" transform="rotate(144.7 63.26 381.89)" fill="#fff" stroke="#555" stroke-width="0.75" />
<path d="M71.06 386.19 L69.06 392.09" stroke="#111" stroke-width="1.5" fill="none"/>
<text x="31.78" y="311.0" font-size="14.4" fill="#000" stroke="#000" stroke-width="0.28">CO<tspan font-size="9.4" dy="4.2">2</tspan></text>
<g transform="translate(62.8,313.5) scale(1.0)"><path d="M0 0 L2.6 -5.6" stroke="#111" stroke-width="1.3" fill="none"/><path d="M4.8 -10.6 L-0.2 -6.2 L2.6 -6.0 L5.0 -4.2 Z" fill="#111"/></g>
<text x="84.3" y="304.6" font-size="15.0" text-anchor="start" fill="#000" stroke="#000" stroke-width="0.28" font-weight="normal" >Human-worn</text>
<text x="106.19" y="321.3" font-size="15.0" text-anchor="start" fill="#000" stroke="#000" stroke-width="0.28" font-weight="normal" >sleeve</text>
<text x="31.68" y="402.7" font-size="14.4" fill="#000" stroke="#000" stroke-width="0.28">CO<tspan font-size="9.4" dy="4.2">2</tspan></text>
<g transform="translate(62.9,404.2) scale(1.0)"><path d="M0 0 L2.6 -5.6" stroke="#111" stroke-width="1.3" fill="none"/><path d="M4.8 -10.6 L-0.2 -6.2 L2.6 -6.0 L5.0 -4.2 Z" fill="#111"/></g>
<text x="83.22" y="391.9" font-size="14.7" text-anchor="start" fill="#3a3a44" stroke="#3a3a44" stroke-width="0.28" font-weight="normal" >Animal hair</text>
<polygon points="472.00,219.60 557.00,241.60 557.00,275.00 472.00,253.00" fill="#dadada" stroke="#444" stroke-width="0.6" stroke-linejoin="round" />
<ellipse cx="493.80" cy="242.80" rx="8.32" ry="10.40" transform="rotate(144.7 493.80 242.80)" fill="#dcdcdc" stroke="#222" stroke-width="0.85" />
<ellipse cx="491.76" cy="244.25" rx="3.68" ry="4.60" transform="rotate(144.7 491.76 244.25)" fill="#f2f2f2" stroke="#444" stroke-width="0.55" />
<path d="M487.79 234.31 L467.80 248.47 L479.82 265.45 L499.81 251.29 Z" fill="#f1f1f1" fill-opacity="0.8" stroke="none"/>
<path d="M487.79 234.31 L467.80 248.47 M499.81 251.29 L479.82 265.45" stroke="#333" stroke-width="0.6" fill="none"/>
<ellipse cx="473.81" cy="256.96" rx="8.32" ry="10.40" transform="rotate(144.7 473.81 256.96)" fill="#e0e0e0" stroke="#555" stroke-width="0.5" />
<ellipse cx="473.32" cy="257.31" rx="7.12" ry="8.90" transform="rotate(144.7 473.32 257.31)" fill="#d2d2d2" stroke="#888" stroke-width="0.4" />
<path d="M469.41 250.76 L451.87 263.19 L460.66 275.59 L478.20 263.16 Z" fill="#ffffff" fill-opacity="1" stroke="none"/>
<path d="M469.41 250.76 L451.87 263.19 M478.20 263.16 L460.66 275.59" stroke="#111" stroke-width="0.9" fill="none"/>
<ellipse cx="473.81" cy="256.96" rx="6.08" ry="7.60" transform="rotate(144.7 473.81 256.96)" fill="#f6f6f6" stroke="none" stroke-width="0" />
<g transform="translate(467.68721660474705,261.29655490497083) scale(1.45)"><path d="M-4 0.5 C-4.2 -2 -2 -3.6 0.4 -3.4 C2.8 -3.2 4.4 -1.6 4 0.8 C3.6 3 1.4 3.8 -0.8 3.6 C-2.8 3.4 -3.9 2.2 -4 0.5 Z" fill="#3a3a3a"/><g stroke="#2a2a2a" stroke-width="0.45" fill="none"><path d="M-4.6 -1.6 L-3 -0.6 M3.6 -3.2 L2.4 -2 M4.8 1.6 L3.4 1 M-1 4.6 L-0.6 3.2 M1.6 -4.6 L1 -3.2 M-4.8 2.4 L-3.4 1.8"/></g><path d="M-1.5 -0.5 C-0.5 -1.5 1 -1.2 1.4 0 C1.6 1 0.4 1.6 -0.6 1.2" stroke="#777" stroke-width="0.45" fill="none"/></g>
<path d="M469.41 250.76 L451.87 263.19 L460.66 275.59 L478.20 263.16 Z" fill="none" fill-opacity="1" stroke="none"/>
<path d="M469.41 250.76 L451.87 263.19 M478.20 263.16 L460.66 275.59" stroke="#111" stroke-width="0.9" fill="none"/>
<ellipse cx="456.26" cy="269.39" rx="6.08" ry="7.60" transform="rotate(144.7 456.26 269.39)" fill="#fff" stroke="#111" stroke-width="1.1" />
<path d="M464.06 273.69 L462.06 279.59" stroke="#111" stroke-width="1.5" fill="none"/>
<ellipse cx="533.40" cy="254.50" rx="8.32" ry="10.40" transform="rotate(144.7 533.40 254.50)" fill="#dcdcdc" stroke="#222" stroke-width="0.85" />
<ellipse cx="531.36" cy="255.95" rx="3.68" ry="4.60" transform="rotate(144.7 531.36 255.95)" fill="#f2f2f2" stroke="#444" stroke-width="0.55" />
<path d="M527.39 246.01 L507.40 260.17 L519.42 277.15 L539.41 262.99 Z" fill="#f1f1f1" fill-opacity="0.8" stroke="none"/>
<path d="M527.39 246.01 L507.40 260.17 M539.41 262.99 L519.42 277.15" stroke="#333" stroke-width="0.6" fill="none"/>
<ellipse cx="513.41" cy="268.66" rx="8.32" ry="10.40" transform="rotate(144.7 513.41 268.66)" fill="#e0e0e0" stroke="#555" stroke-width="0.5" />
<ellipse cx="512.92" cy="269.01" rx="7.12" ry="8.90" transform="rotate(144.7 512.92 269.01)" fill="#d2d2d2" stroke="#888" stroke-width="0.4" />
<path d="M509.01 262.46 L491.47 274.89 L500.26 287.29 L517.80 274.86 Z" fill="#ffffff" fill-opacity="1" stroke="none"/>
<path d="M509.01 262.46 L491.47 274.89 M517.80 274.86 L500.26 287.29" stroke="#111" stroke-width="0.9" fill="none"/>
<ellipse cx="513.41" cy="268.66" rx="6.08" ry="7.60" transform="rotate(144.7 513.41 268.66)" fill="#f6f6f6" stroke="none" stroke-width="0" />
<g transform="translate(507.28721660474696,272.9965549049708) scale(1.55)"><path d="M-4.5 3.5 C-3 0.5 -1 -2 1.5 -3.2 C3 -4 4.5 -3.4 4.4 -2 C4.2 -0.6 2.8 0.4 1.2 0.6 L-1.5 3.6 Z" fill="#d99468"/><path d="M0.8 -2.6 C2.2 -3.4 3.6 -3 3.5 -1.8" stroke="#c07a50" stroke-width="0.5" fill="none"/></g>
<path d="M509.01 262.46 L491.47 274.89 L500.26 287.29 L517.80 274.86 Z" fill="none" fill-opacity="1" stroke="none"/>
<path d="M509.01 262.46 L491.47 274.89 M517.80 274.86 L500.26 287.29" stroke="#111" stroke-width="0.9" fill="none"/>
<ellipse cx="495.86" cy="281.09" rx="6.08" ry="7.60" transform="rotate(144.7 495.86 281.09)" fill="#fff" stroke="#111" stroke-width="1.1" />
<path d="M503.66 285.39 L501.66 291.29" stroke="#111" stroke-width="1.5" fill="none"/>
<g transform="translate(456.2,293.9) scale(1.0)"><path d="M0 0 L2.6 -5.6" stroke="#111" stroke-width="1.3" fill="none"/><path d="M4.8 -10.6 L-0.2 -6.2 L2.6 -6.0 L5.0 -4.2 Z" fill="#111"/></g>
<text x="463.78" y="301.8" font-size="14.4" fill="#000" stroke="#000" stroke-width="0.28">CO<tspan font-size="9.4" dy="4.2">2</tspan></text>
<g transform="translate(496.0,304.4) scale(1.0)"><path d="M0 0 L2.6 -5.6" stroke="#111" stroke-width="1.3" fill="none"/><path d="M4.8 -10.6 L-0.2 -6.2 L2.6 -6.0 L5.0 -4.2 Z" fill="#111"/></g>
<polygon points="508.30,6.20 568.50,22.40 568.50,45.60 508.30,29.40" fill="#dadada" stroke="#444" stroke-width="0.6" stroke-linejoin="round" />
<ellipse cx="523.00" cy="23.20" rx="5.76" ry="8.00" transform="rotate(146.6 523.00 23.20)" fill="#e6e6e6" stroke="#111" stroke-width="1.3" />
<ellipse cx="522.33" cy="23.64" rx="2.55" ry="3.40" transform="rotate(146.6 522.33 23.64)" fill="#f8f8f8" stroke="#222" stroke-width="0.7" />
<path d="M518.59 16.52 L508.58 23.13 L517.39 36.49 L527.41 29.88 Z" fill="none" fill-opacity="1" stroke="none"/>
<path d="M518.59 16.52 L508.58 23.13 M527.41 29.88 L517.39 36.49" stroke="#111" stroke-width="1.2" fill="none"/>
<ellipse cx="550.80" cy="31.70" rx="5.76" ry="8.00" transform="rotate(146.6 550.80 31.70)" fill="#e6e6e6" stroke="#111" stroke-width="1.3" />
<ellipse cx="550.13" cy="32.14" rx="2.55" ry="3.40" transform="rotate(146.6 550.13 32.14)" fill="#f8f8f8" stroke="#222" stroke-width="0.7" />
<path d="M546.39 25.02 L536.38 31.63 L545.19 44.99 L555.21 38.38 Z" fill="none" fill-opacity="1" stroke="none"/>
<path d="M546.39 25.02 L536.38 31.63 M555.21 38.38 L545.19 44.99" stroke="#111" stroke-width="1.2" fill="none"/>
<path d="M502.24 21.43 L463.64 46.83 L477.16 67.37 L515.76 41.97 Z" fill="#ffffff" fill-opacity="0.82" stroke="none"/>
<path d="M502.24 21.43 L463.64 46.83 M515.76 41.97 L477.16 67.37" stroke="#444" stroke-width="0.6" fill="none"/>
<ellipse cx="509.00" cy="31.70" rx="6.48" ry="9.00" transform="rotate(146.6 509.00 31.70)" fill="none" stroke="#a0a0a0" stroke-width="0.55" />
<polygon points="477.50,52.50 481.00,47.50 486.00,43.50 491.00,40.00 496.00,39.30 500.50,40.40 502.40,42.40 499.00,44.20 495.00,45.00 491.50,48.50 487.00,51.50 482.00,55.00" fill="#9a9a9a" stroke="none" stroke-width="0.6" stroke-linejoin="round" />
<path d="M478.6 47.8 C474.4 48.2 471.4 52.4 471.6 56.4 C471.8 59.4 474.4 61.2 478.4 60.8 C480.6 59.6 481.2 53.2 478.6 47.8 Z" fill="#1f1f1f"/>
<ellipse cx="470.40" cy="57.10" rx="8.86" ry="12.30" transform="rotate(146.6 470.40 57.10)" fill="none" stroke="#444" stroke-width="0.6" />
<path d="M530.87 29.90 L493.07 54.60 L506.53 75.20 L544.33 50.50 Z" fill="#ffffff" fill-opacity="0.82" stroke="none"/>
<path d="M530.87 29.90 L493.07 54.60 M544.33 50.50 L506.53 75.20" stroke="#444" stroke-width="0.6" fill="none"/>
<ellipse cx="537.60" cy="40.20" rx="6.48" ry="9.00" transform="rotate(146.6 537.60 40.20)" fill="none" stroke="#a0a0a0" stroke-width="0.55" />
<polygon points="508.00,60.40 510.00,68.60 515.80,65.00 520.60,59.80 525.60,55.60 530.40,51.00 529.60,49.80 526.00,51.40 531.00,46.40 530.00,45.20 525.20,48.80 528.20,43.60 526.80,42.80 522.60,47.20 520.00,48.60 517.40,46.00 516.00,46.60 516.60,51.80 513.00,56.00" fill="#8e8e8e" stroke="none" stroke-width="0.6" stroke-linejoin="round" />
<polygon points="489.60,70.30 492.80,77.40 509.90,68.00 508.20,60.20" fill="#000" stroke="none" stroke-width="0.6" stroke-linejoin="round" />
<ellipse cx="499.80" cy="64.90" rx="8.86" ry="12.30" transform="rotate(146.6 499.80 64.90)" fill="none" stroke="#444" stroke-width="0.6" />
<g transform="translate(534.8,62.5) scale(-1,1)"><use href="#head" x="0" y="0" width="25.4" height="32.5" fill="#b4b4b4"/></g>
<g transform="translate(510.0,84.4) scale(1,1)" stroke="#1a1a1a" stroke-width="0.8" fill="none" stroke-linecap="round"><path d="M0 -0.2 C-2.5 -0.6 -5.8 -1.7 -7.2 -8.6"/><path d="M0.2 0.6 L-6.4 -1.6"/><path d="M0.2 1.3 L-5.8 1.6"/></g>
<use href="#head" x="187.6" y="21.1" width="15.6" height="19.8" fill="#bababa" color="#bababa" />
<g transform="translate(204.2,34.0) scale(1,1)" stroke="#1a1a1a" stroke-width="1.0" fill="none" stroke-linecap="round"><path d="M0 -0.2 C4.4 -0.4 10.1 -0.8 12.6 -4.0"/><path d="M0.2 0.6 L8.4 1.8"/><path d="M0.2 1.3 L6.4 4.6"/></g>
<use href="#head" x="187.6" y="54.1" width="15.6" height="19.8" fill="#bababa" color="#bababa" />
<g transform="translate(204.2,67.0) scale(1,1)" stroke="#1a1a1a" stroke-width="1.0" fill="none" stroke-linecap="round"><path d="M0 -0.2 C4.3 -0.4 9.9 -0.8 12.4 -3.9"/><path d="M0.2 0.6 L8.4 1.8"/><path d="M0.2 1.3 L6.3 4.6"/></g>
<use href="#hand" x="217.0" y="53.8" width="19" height="24" fill="#000" color="#000" />
<use href="#rat" x="196.0" y="91.4" width="25" height="18.8" fill="#000" color="#000" />
<g transform="translate(221.4,98.6) scale(1,1)" stroke="#1a1a1a" stroke-width="1.0" fill="none" stroke-linecap="round"><path d="M0 -0.2 C4.5 -0.4 10.4 -0.7 13 -3.4"/><path d="M0.2 0.6 L9.1 2"/><path d="M0.2 1.3 L6.8 5.1"/></g>
<use href="#gpig2" x="196.2" y="124.8" width="22.6" height="15.8" fill="#000" color="#000" />
<g transform="translate(219.6,125.6) scale(1,1)" stroke="#1a1a1a" stroke-width="1.0" fill="none" stroke-linecap="round"><path d="M0 -0.2 C4.4 -0.5 10.0 -1.1 12.5 -5.4"/><path d="M0.2 0.6 L8.5 1.7"/><path d="M0.2 1.3 L6.8 4.8"/></g>
<use href="#quail" x="196.3" y="152.4" width="21.8" height="20.6" fill="#000" color="#000" />
<g transform="translate(219.9,154.5) scale(1,1)" stroke="#1a1a1a" stroke-width="1.0" fill="none" stroke-linecap="round"><path d="M0 -0.2 C4.3 -0.4 9.8 -0.6 12.2 -3.1"/><path d="M0.2 0.6 L8.2 2"/><path d="M0.2 1.3 L5.9 5.1"/></g>
<use href="#rat" x="442.3" y="91.6" width="24.2" height="19.4" fill="#000" color="#000" />
<g transform="translate(467.6,98.8) scale(1,1)" stroke="#1a1a1a" stroke-width="1.0" fill="none" stroke-linecap="round"><path d="M0 -0.2 C4.5 -0.4 10.4 -0.7 13 -3.4"/><path d="M0.2 0.6 L9.1 2"/><path d="M0.2 1.3 L6.8 5.1"/></g>
<use href="#gpig2" x="441.9" y="124.9" width="22.8" height="16.0" fill="#000" color="#000" />
<g transform="translate(465.5,125.5) scale(1,1)" stroke="#1a1a1a" stroke-width="1.0" fill="none" stroke-linecap="round"><path d="M0 -0.2 C4.4 -0.5 10.0 -1.1 12.5 -5.4"/><path d="M0.2 0.6 L8.5 1.7"/><path d="M0.2 1.3 L6.8 4.8"/></g>
<use href="#quail" x="441.9" y="152.5" width="22.2" height="21.2" fill="#000" color="#000" />
<g transform="translate(465.6,154.8) scale(1,1)" stroke="#1a1a1a" stroke-width="1.0" fill="none" stroke-linecap="round"><path d="M0 -0.2 C4.3 -0.4 9.8 -0.6 12.2 -3.1"/><path d="M0.2 0.6 L8.2 2"/><path d="M0.2 1.3 L5.9 5.1"/></g>
<use href="#hand" x="713.6" y="79.6" width="19" height="24" fill="#000" color="#000" />
<g transform="translate(755.2,88.9) scale(-1,1)"><use href="#head" x="0" y="0" width="15.6" height="19.8" fill="#bababa"/></g>
<g transform="translate(738.4,102.6) scale(1,1)" stroke="#1a1a1a" stroke-width="1.0" fill="none" stroke-linecap="round"><path d="M0 -0.2 C-4.3 -0.4 -9.8 -0.9 -12.2 -4.3"/><path d="M0.2 0.6 L-7.2 1.3"/><path d="M0.2 1.3 L-6.1 4.5"/></g>
<use href="#hand" x="713.6" y="112.1" width="19" height="24" fill="#000" color="#000" />
<g transform="translate(755.2,121.4) scale(-1,1)"><use href="#head" x="0" y="0" width="15.6" height="19.8" fill="#bababa"/></g>
<g transform="translate(738.4,135.1) scale(1,1)" stroke="#1a1a1a" stroke-width="1.0" fill="none" stroke-linecap="round"><path d="M0 -0.2 C-4.3 -0.4 -9.8 -0.9 -12.2 -4.3"/><path d="M0.2 0.6 L-7.2 1.3"/><path d="M0.2 1.3 L-6.1 4.5"/></g>
<use href="#hand" x="713.6" y="144.5" width="19" height="24" fill="#000" color="#000" />
<g transform="translate(755.2,153.8) scale(-1,1)"><use href="#head" x="0" y="0" width="15.6" height="19.8" fill="#bababa"/></g>
<g transform="translate(738.4,167.5) scale(1,1)" stroke="#1a1a1a" stroke-width="1.0" fill="none" stroke-linecap="round"><path d="M0 -0.2 C-4.3 -0.4 -9.8 -0.9 -12.2 -4.3"/><path d="M0.2 0.6 L-7.2 1.3"/><path d="M0.2 1.3 L-6.1 4.5"/></g>
<polygon points="190.10,273.50 193.40,278.50 185.90,287.20 184.20,280.20" fill="#d99468" stroke="none" stroke-width="0.6" stroke-linejoin="round" />
<use href="#hsleeve" x="178.0" y="298.4" width="22" height="29" fill="#000" color="#000" />
<use href="#sheep" x="175.4" y="338.2" width="23.4" height="17.6" fill="#d0d0d0" color="#d0d0d0" stroke="#111" stroke-width="0.9"/>
<use href="#dog" x="172.3" y="367.6" width="29.2" height="20.3" fill="#d0d0d0" color="#d0d0d0" stroke="#111" stroke-width="0.9"/>
<rect x="169.6" y="298.2" width="1.3" height="6.6" fill="#3d8fe8"/>
<use href="#sheep" x="430.0" y="338.2" width="22.9" height="17.5" fill="#d0d0d0" color="#d0d0d0" stroke="#111" stroke-width="0.9"/>
<text x="455.16" y="353.0" font-size="14.8" fill="#000" stroke="#000" stroke-width="0.28">CO<tspan font-size="10.4" dy="4.7">2</tspan></text>
<use href="#dog" x="428.2" y="368.3" width="29.2" height="20.4" fill="#d0d0d0" color="#d0d0d0" stroke="#111" stroke-width="0.9"/>
<text x="457.06" y="386.3" font-size="14.8" fill="#000" stroke="#000" stroke-width="0.28">CO<tspan font-size="10.4" dy="4.7">2</tspan></text>
<use href="#hsleeve" x="711.0" y="325.8" width="21.6" height="29" fill="#000" color="#000" />
<text x="734.66" y="344.8" font-size="14.8" fill="#000" stroke="#000" stroke-width="0.28">CO<tspan font-size="10.4" dy="4.7">2</tspan></text>
<use href="#hsleeve" x="711.0" y="361.1" width="21.6" height="29" fill="#000" color="#000" />
<text x="734.66" y="380.1" font-size="14.8" fill="#000" stroke="#000" stroke-width="0.28">CO<tspan font-size="10.4" dy="4.7">2</tspan></text>
<circle cx="171.5" cy="594.5" r="55.3" fill="#e3e3e3"/>
<circle cx="154.7" cy="556.0" r="8.0" fill="#bdbdbd"/>
<circle cx="180.7" cy="554.1" r="6.0" fill="#bdbdbd"/>
<circle cx="196.5" cy="560.5" r="8.0" fill="#e8519f"/>
<circle cx="134.8" cy="571.8" r="6.0" fill="#bdbdbd"/>
<circle cx="152.4" cy="576.7" r="10.1" fill="#bdbdbd"/>
<circle cx="171.9" cy="569.7" r="8.7" fill="#bdbdbd"/>
<circle cx="190.3" cy="581.0" r="8.3" fill="#bdbdbd"/>
<circle cx="209.9" cy="579.0" r="9.0" fill="#bdbdbd"/>
<circle cx="130.2" cy="587.0" r="7.8" fill="#bdbdbd"/>
<circle cx="171.3" cy="591.3" r="10.0" fill="#4573b9"/>
<circle cx="147.9" cy="598.0" r="9.0" fill="#bdbdbd"/>
<circle cx="130.2" cy="605.8" r="6.1" fill="#bdbdbd"/>
<circle cx="190.1" cy="603.9" r="10.5" fill="#bdbdbd"/>
<circle cx="211.9" cy="599.8" r="9.3" fill="#bdbdbd"/>
<circle cx="164.1" cy="611.5" r="8.0" fill="#fb8a0c"/>
<circle cx="142.4" cy="620.0" r="8.8" fill="#36a138"/>
<circle cx="178.8" cy="622.1" r="6.0" fill="#bdbdbd"/>
<circle cx="203.4" cy="622.1" r="8.3" fill="#bdbdbd"/>
<circle cx="161.8" cy="633.6" r="10.0" fill="#bdbdbd"/>
<circle cx="187.0" cy="634.3" r="6.1" fill="#bdbdbd"/>
<polyline points="21,546.40 71.4,546.40 102.8,558.6 196.5,558.6" fill="none" stroke="#e8519f" stroke-width="1.25" stroke-linejoin="round"/>
<polyline points="21,557.33 71.4,557.33 102.8,586.0 171.3,586.0" fill="none" stroke="#4573b9" stroke-width="1.25" stroke-linejoin="round"/>
<polyline points="21,568.26 71.4,568.26 102.8,616.4 142.4,616.4" fill="none" stroke="#36a138" stroke-width="1.25" stroke-linejoin="round"/>
<polyline points="21,579.19 71.4,579.19 102.8,589.5 171.3,589.5" fill="none" stroke="#4573b9" stroke-width="1.25" stroke-linejoin="round"/>
<polyline points="21,590.12 71.4,590.12 102.8,607.9 164.1,607.9" fill="none" stroke="#fb8a0c" stroke-width="1.25" stroke-linejoin="round"/>
<polyline points="21,601.05 71.4,601.05 102.8,620.0 142.4,620.0" fill="none" stroke="#36a138" stroke-width="1.25" stroke-linejoin="round"/>
<polyline points="21,611.98 71.4,611.98 102.8,562.5 196.5,562.5" fill="none" stroke="#e8519f" stroke-width="1.25" stroke-linejoin="round"/>
<polyline points="21,622.91 71.4,622.91 102.8,593.4 171.3,593.4" fill="none" stroke="#4573b9" stroke-width="1.25" stroke-linejoin="round"/>
<polyline points="21,633.84 71.4,633.84 102.8,596.7 171.3,596.7" fill="none" stroke="#4573b9" stroke-width="1.25" stroke-linejoin="round"/>
<polyline points="21,644.77 71.4,644.77 102.8,623.9 142.4,623.9" fill="none" stroke="#36a138" stroke-width="1.25" stroke-linejoin="round"/>
<circle cx="196.5" cy="560.5" r="8.0" fill="#e8519f"/>
<circle cx="171.3" cy="591.3" r="10.0" fill="#4573b9"/>
<circle cx="164.1" cy="611.5" r="8.0" fill="#fb8a0c"/>
<circle cx="142.4" cy="620.0" r="8.8" fill="#36a138"/>
<circle cx="33.2" cy="546.40" r="2.9" fill="#e8519f"/>
<circle cx="33.2" cy="557.33" r="2.9" fill="#4573b9"/>
<circle cx="33.2" cy="568.26" r="2.9" fill="#36a138"/>
<circle cx="33.2" cy="579.19" r="2.9" fill="#4573b9"/>
<circle cx="33.2" cy="590.12" r="2.9" fill="#fb8a0c"/>
<circle cx="33.2" cy="601.05" r="2.9" fill="#36a138"/>
<circle cx="33.2" cy="611.98" r="2.9" fill="#e8519f"/>
<circle cx="33.2" cy="622.91" r="2.9" fill="#4573b9"/>
<circle cx="33.2" cy="633.84" r="2.9" fill="#4573b9"/>
<circle cx="33.2" cy="644.77" r="2.9" fill="#36a138"/>
<text x="24.19" y="491.5" font-size="17.6" text-anchor="start" fill="#3f3f3f" stroke="#3f3f3f" stroke-width="0.28" font-weight="normal"  textLength="63.60" lengthAdjust="spacingAndGlyphs">Sensory</text>
<text x="23.88" y="510.0" font-size="17.6" text-anchor="start" fill="#3f3f3f" stroke="#3f3f3f" stroke-width="0.28" font-weight="normal"  textLength="64.88" lengthAdjust="spacingAndGlyphs">neurons</text>
<text x="135.45" y="491.6" font-size="17.6" text-anchor="start" fill="#3f3f3f" stroke="#3f3f3f" stroke-width="0.28" font-weight="normal"  textLength="70.73" lengthAdjust="spacingAndGlyphs">Antennal</text>
<text x="153.05" y="510.2" font-size="17.6" text-anchor="start" fill="#3f3f3f" stroke="#3f3f3f" stroke-width="0.28" font-weight="normal"  textLength="34.94" lengthAdjust="spacingAndGlyphs">lobe</text>
<rect x="246.6" y="457.4" width="123.6" height="198.4" fill="none" stroke="#333" stroke-width="1.1"/>
<rect x="377.9" y="457.4" width="382.2" height="198.7" fill="none" stroke="#333" stroke-width="1.1"/>
<use href="#gpig" x="263.0" y="468.2" width="31.5" height="22.2" fill="#333333" color="#333333" />
<use href="#rat" x="292.4" y="472.4" width="30.6" height="23.0" fill="#333333" color="#333333" />
<use href="#quail" x="325.4" y="470.0" width="23.8" height="23.3" fill="#333333" color="#333333" />
<use href="#sheep" x="271.0" y="501.8" width="30.3" height="24.5" fill="#333333" color="#333333" />
<use href="#dog" x="306.2" y="499.7" width="39.6" height="27.8" fill="#333333" color="#333333" />
<circle cx="308.3" cy="594.5" r="55.3" fill="#e3e3e3"/>
<circle cx="291.5" cy="556.0" r="8.0" fill="#bdbdbd"/>
<circle cx="317.5" cy="554.1" r="6.0" fill="#f07272"/>
<circle cx="333.3" cy="560.5" r="8.0" fill="#f07272"/>
<circle cx="271.6" cy="571.8" r="6.0" fill="#bdbdbd"/>
<circle cx="289.2" cy="576.7" r="10.1" fill="#bdbdbd"/>
<circle cx="308.7" cy="569.7" r="8.7" fill="#bdbdbd"/>
<circle cx="327.1" cy="581.0" r="8.3" fill="#bdbdbd"/>
<circle cx="346.7" cy="579.0" r="9.0" fill="#bdbdbd"/>
<circle cx="267.0" cy="587.0" r="7.8" fill="#bdbdbd"/>
<circle cx="308.1" cy="591.3" r="10.0" fill="#f07272"/>
<circle cx="284.7" cy="598.0" r="9.0" fill="#bdbdbd"/>
<circle cx="267.0" cy="605.8" r="6.1" fill="#bdbdbd"/>
<circle cx="326.9" cy="603.9" r="10.5" fill="#bdbdbd"/>
<circle cx="348.7" cy="599.8" r="9.3" fill="#bdbdbd"/>
<circle cx="300.9" cy="611.5" r="8.0" fill="#f07272"/>
<circle cx="279.2" cy="620.0" r="8.8" fill="#f07272"/>
<circle cx="315.6" cy="622.1" r="6.0" fill="#bdbdbd"/>
<circle cx="340.2" cy="622.1" r="8.3" fill="#bdbdbd"/>
<circle cx="298.6" cy="633.6" r="10.0" fill="#bdbdbd"/>
<circle cx="323.8" cy="634.3" r="6.1" fill="#bdbdbd"/>
<use href="#human" x="383.3" y="470.0" width="27.4" height="68.6" fill="#333333" color="#333333" />
<text x="414.72" y="495.6" font-size="17.7" text-anchor="start" fill="#000" stroke="#000" stroke-width="0.28" font-weight="normal"  textLength="78.74" lengthAdjust="spacingAndGlyphs">Increased</text>
<text x="416.11" y="514.5" font-size="17.7" text-anchor="start" fill="#000" stroke="#000" stroke-width="0.28" font-weight="normal" >sensitivity</text>
<circle cx="455.2" cy="594.5" r="55.3" fill="#e3e3e3"/>
<circle cx="438.4" cy="556.0" r="8.0" fill="#bdbdbd"/>
<circle cx="464.4" cy="554.1" r="6.0" fill="#ff0000"/>
<circle cx="480.2" cy="560.5" r="8.0" fill="#ff0000"/>
<circle cx="418.5" cy="571.8" r="6.0" fill="#bdbdbd"/>
<circle cx="436.1" cy="576.7" r="10.1" fill="#bdbdbd"/>
<circle cx="455.6" cy="569.7" r="8.7" fill="#bdbdbd"/>
<circle cx="474.0" cy="581.0" r="8.3" fill="#bdbdbd"/>
<circle cx="493.6" cy="579.0" r="9.0" fill="#bdbdbd"/>
<circle cx="413.9" cy="587.0" r="7.8" fill="#bdbdbd"/>
<circle cx="455.0" cy="591.3" r="10.0" fill="#ff0000"/>
<circle cx="431.6" cy="598.0" r="9.0" fill="#bdbdbd"/>
<circle cx="413.9" cy="605.8" r="6.1" fill="#bdbdbd"/>
<circle cx="473.8" cy="603.9" r="10.5" fill="#bdbdbd"/>
<circle cx="495.6" cy="599.8" r="9.3" fill="#bdbdbd"/>
<circle cx="447.8" cy="611.5" r="8.0" fill="#ff0000"/>
<circle cx="426.1" cy="620.0" r="8.8" fill="#ff0000"/>
<circle cx="462.5" cy="622.1" r="6.0" fill="#bdbdbd"/>
<circle cx="487.1" cy="622.1" r="8.3" fill="#bdbdbd"/>
<circle cx="445.5" cy="633.6" r="10.0" fill="#bdbdbd"/>
<circle cx="470.7" cy="634.3" r="6.1" fill="#bdbdbd"/>
<text x="511.53" y="495.7" font-size="17.9" text-anchor="start" fill="#000" stroke="#000" stroke-width="0.28" font-weight="normal"  textLength="128.04" lengthAdjust="spacingAndGlyphs">Human-specific</text>
<text x="532.09" y="515.2" font-size="17.7" text-anchor="start" fill="#000" stroke="#000" stroke-width="0.28" font-weight="normal"  textLength="87.96" lengthAdjust="spacingAndGlyphs">glomerulus</text>
<circle cx="576.6" cy="594.5" r="55.3" fill="#e3e3e3"/>
<circle cx="559.8" cy="556.0" r="8.0" fill="#bdbdbd"/>
<circle cx="585.8" cy="554.1" r="6.0" fill="#f07272"/>
<circle cx="601.6" cy="560.5" r="8.0" fill="#f07272"/>
<circle cx="539.9" cy="571.8" r="6.0" fill="#bdbdbd"/>
<circle cx="557.5" cy="576.7" r="10.1" fill="#ff0000"/>
<circle cx="577.0" cy="569.7" r="8.7" fill="#bdbdbd"/>
<circle cx="595.4" cy="581.0" r="8.3" fill="#bdbdbd"/>
<circle cx="615.0" cy="579.0" r="9.0" fill="#bdbdbd"/>
<circle cx="535.3" cy="587.0" r="7.8" fill="#bdbdbd"/>
<circle cx="576.4" cy="591.3" r="10.0" fill="#f07272"/>
<circle cx="553.0" cy="598.0" r="9.0" fill="#bdbdbd"/>
<circle cx="535.3" cy="605.8" r="6.1" fill="#bdbdbd"/>
<circle cx="595.2" cy="603.9" r="10.5" fill="#bdbdbd"/>
<circle cx="617.0" cy="599.8" r="9.3" fill="#bdbdbd"/>
<circle cx="569.2" cy="611.5" r="8.0" fill="#f07272"/>
<circle cx="547.5" cy="620.0" r="8.8" fill="#f07272"/>
<circle cx="583.9" cy="622.1" r="6.0" fill="#bdbdbd"/>
<circle cx="608.5" cy="622.1" r="8.3" fill="#bdbdbd"/>
<circle cx="566.9" cy="633.6" r="10.0" fill="#bdbdbd"/>
<circle cx="592.1" cy="634.3" r="6.1" fill="#bdbdbd"/>
<path d="M534.1 543.5 L547.2 562.2" stroke="#000" stroke-width="1.9"/>
<path d="M550.9 567.6 L539.9 560.7 L545.8 560.2 L548.3 554.8 Z" fill="#000"/>
<text x="660.73" y="486.3" font-size="17.8" text-anchor="start" fill="#000" stroke="#000" stroke-width="0.28" font-weight="normal"  textLength="72.13" lengthAdjust="spacingAndGlyphs">Complex</text>
<text x="656.07" y="505.0" font-size="17.7" text-anchor="start" fill="#000" stroke="#000" stroke-width="0.28" font-weight="normal"  textLength="83.62" lengthAdjust="spacingAndGlyphs">differential</text>
<text x="669.09" y="523.6" font-size="17.9" text-anchor="start" fill="#000" stroke="#000" stroke-width="0.28" font-weight="normal"  textLength="55.91" lengthAdjust="spacingAndGlyphs">activity</text>
<circle cx="698.3" cy="594.5" r="55.3" fill="#e3e3e3"/>
<circle cx="681.5" cy="556.0" r="8.0" fill="#bdbdbd"/>
<circle cx="707.5" cy="554.1" r="6.0" fill="#f07272"/>
<circle cx="723.3" cy="560.5" r="8.0" fill="#eab6b6"/>
<circle cx="661.6" cy="571.8" r="6.0" fill="#bdbdbd"/>
<circle cx="679.2" cy="576.7" r="10.1" fill="#bdbdbd"/>
<circle cx="698.7" cy="569.7" r="8.7" fill="#bdbdbd"/>
<circle cx="717.1" cy="581.0" r="8.3" fill="#bdbdbd"/>
<circle cx="736.7" cy="579.0" r="9.0" fill="#bdbdbd"/>
<circle cx="657.0" cy="587.0" r="7.8" fill="#bdbdbd"/>
<circle cx="698.1" cy="591.3" r="10.0" fill="#ff0000"/>
<circle cx="674.7" cy="598.0" r="9.0" fill="#bdbdbd"/>
<circle cx="657.0" cy="605.8" r="6.1" fill="#bdbdbd"/>
<circle cx="716.9" cy="603.9" r="10.5" fill="#bdbdbd"/>
<circle cx="738.7" cy="599.8" r="9.3" fill="#bdbdbd"/>
<circle cx="690.9" cy="611.5" r="8.0" fill="#f07272"/>
<circle cx="669.2" cy="620.0" r="8.8" fill="#ff0000"/>
<circle cx="705.6" cy="622.1" r="6.0" fill="#bdbdbd"/>
<circle cx="730.2" cy="622.1" r="8.3" fill="#bdbdbd"/>
<circle cx="688.6" cy="633.6" r="10.0" fill="#bdbdbd"/>
<circle cx="713.8" cy="634.3" r="6.1" fill="#bdbdbd"/>
<text transform="translate(8.2,21.0) scale(1.1,1)" font-size="22.5" font-weight="bold" fill="#000" stroke="#000" stroke-width="0.8">a</text>
<text transform="translate(9.6,222.7) scale(1.1,1)" font-size="22.5" font-weight="bold" fill="#000" stroke="#000" stroke-width="0.8">b</text>
<text transform="translate(423.1,20.8) scale(1.1,1)" font-size="22.5" font-weight="bold" fill="#000" stroke="#000" stroke-width="0.8">c</text>
<text transform="translate(421.0,222.3) scale(1.1,1)" font-size="22.5" font-weight="bold" fill="#000" stroke="#000" stroke-width="0.8">d</text>
<text transform="translate(8.3,469.7) scale(1.1,1)" font-size="22.5" font-weight="bold" fill="#000" stroke="#000" stroke-width="0.8">e</text>
<text transform="translate(228.9,469.1) scale(1.1,1)" font-size="22.5" font-weight="bold" fill="#000" stroke="#000" stroke-width="0.8">f</text>
</svg>
</body></html>
